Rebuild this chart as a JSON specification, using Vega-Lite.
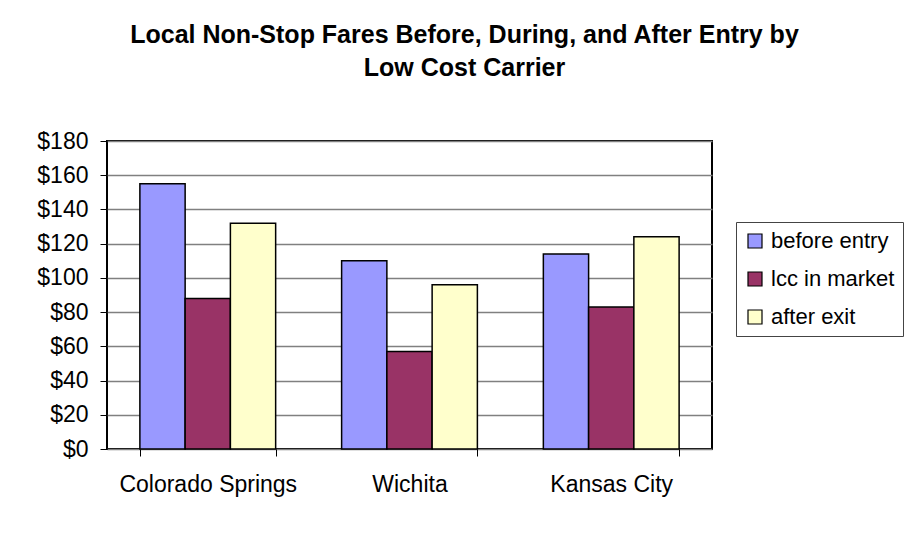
{
  "$schema": "https://vega.github.io/schema/vega-lite/v6.json",
  "autosize": "none",
  "padding": {"left": 107, "top": 141, "right": 209, "bottom": 85},
  "width": 605,
  "height": 308,
  "background": "white",
  "title": {
    "text": ["Local Non-Stop Fares Before, During, and After Entry by", "Low Cost Carrier"],
    "font": "Liberation Sans",
    "fontSize": 25,
    "fontWeight": "bold",
    "color": "black",
    "lineHeight": 33,
    "anchor": "middle",
    "dx": 55,
    "offset": 49
  },
  "data": {
    "values": [
      {"city": "Colorado Springs", "series": "before entry", "fare": 155},
      {"city": "Colorado Springs", "series": "lcc in market", "fare": 88},
      {"city": "Colorado Springs", "series": "after exit", "fare": 132},
      {"city": "Wichita", "series": "before entry", "fare": 110},
      {"city": "Wichita", "series": "lcc in market", "fare": 57},
      {"city": "Wichita", "series": "after exit", "fare": 96},
      {"city": "Kansas City", "series": "before entry", "fare": 114},
      {"city": "Kansas City", "series": "lcc in market", "fare": 83},
      {"city": "Kansas City", "series": "after exit", "fare": 124}
    ]
  },
  "mark": {"type": "bar", "stroke": "black", "strokeWidth": 1.5},
  "encoding": {
    "x": {
      "field": "city",
      "type": "nominal",
      "sort": ["Colorado Springs", "Wichita", "Kansas City"],
      "scale": {"paddingInner": 0.327, "paddingOuter": 0.163},
      "axis": {
        "title": null,
        "labelAngle": 0,
        "labelFont": "Liberation Sans",
        "labelFontSize": 23,
        "labelColor": "black",
        "labelPadding": 17,
        "tickBand": "extent",
        "tickSize": 7,
        "tickColor": "black",
        "tickWidth": 1,
        "domain": false,
        "grid": false
      }
    },
    "xOffset": {
      "field": "series",
      "type": "nominal",
      "sort": ["before entry", "lcc in market", "after exit"],
      "scale": {"paddingInner": 0, "paddingOuter": 0}
    },
    "y": {
      "field": "fare",
      "type": "quantitative",
      "scale": {"domain": [0, 180], "nice": false},
      "axis": {
        "title": null,
        "values": [0, 20, 40, 60, 80, 100, 120, 140, 160, 180],
        "format": "$,.0f",
        "labelFont": "Liberation Sans",
        "labelFontSize": 23,
        "labelColor": "black",
        "labelPadding": 12,
        "tickSize": 7,
        "tickColor": "black",
        "tickWidth": 1,
        "domain": false,
        "grid": true,
        "gridColor": "#808080",
        "gridWidth": 1.3
      }
    },
    "color": {
      "field": "series",
      "type": "nominal",
      "sort": ["before entry", "lcc in market", "after exit"],
      "scale": {
        "domain": ["before entry", "lcc in market", "after exit"],
        "range": ["#9999FF", "#993366", "#FFFFCC"]
      },
      "legend": {
        "title": null,
        "orient": "none",
        "legendX": 629,
        "legendY": 81,
        "strokeColor": "#444",
        "padding": 8,
        "symbolType": "square",
        "symbolSize": 196,
        "symbolStrokeColor": "black",
        "symbolStrokeWidth": 1.2,
        "labelFont": "Liberation Sans",
        "labelFontSize": 22,
        "labelColor": "black",
        "labelOffset": 5,
        "rowPadding": 16,
        "labelLimit": 300
      }
    }
  },
  "config": {
    "view": {"stroke": "black", "strokeWidth": 2}
  }
}
